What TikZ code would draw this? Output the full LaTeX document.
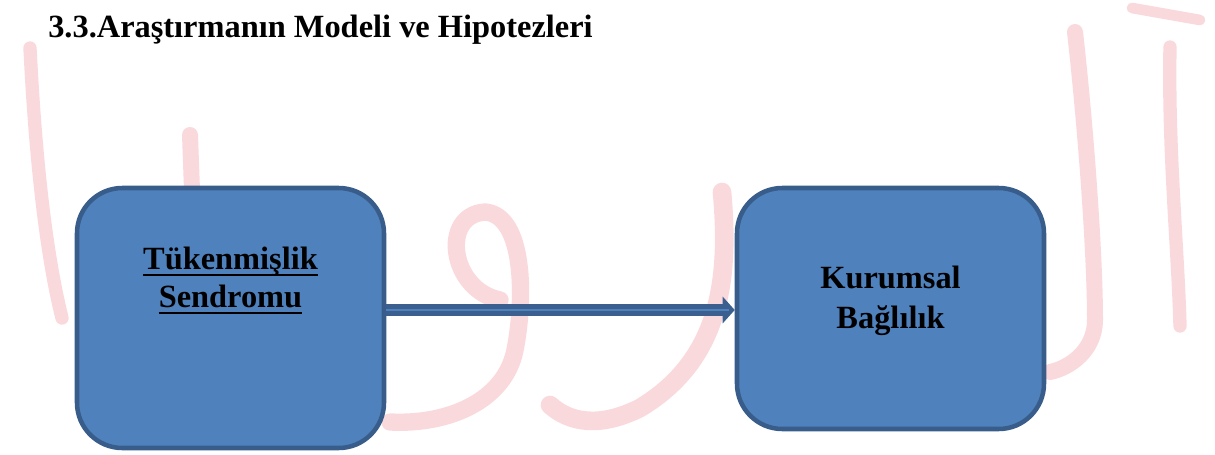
\documentclass[tikz,border=0pt]{standalone}
\usepackage{fontspec}
\setmainfont{Liberation Serif}
\usetikzlibrary{arrows.meta}
\definecolor{boxfill}{RGB}{79,129,189}
\definecolor{boxborder}{RGB}{56,93,138}
\definecolor{arrowdark}{RGB}{59,95,142}
\definecolor{wm}{RGB}{246,186,192}
\tikzset{
  modelbox/.style={draw=boxborder, fill=boxfill, line width=3.4pt, rounded corners=34pt, inner sep=0pt},
  boxtext/.style={inner sep=0pt, anchor=base, font=\fontsize{24.3}{28}\selectfont\bfseries, text=black},
  ulline/.style={line width=1.9pt, black},
  wmark/.style={wm, opacity=0.55, line cap=round, line join=round},
  conn/.style={arrowdark, line width=9pt, -{Triangle[length=9pt,width=19.5pt]}},
  connin/.style={boxfill, line width=1.3pt}
}
\begin{document}
\begin{tikzpicture}[x=0.75pt,y=-0.75pt]
\useasboundingbox (0,0) rectangle (1215,454);
% watermark
\draw[wmark, line width=10pt] (30,48) .. controls (35,150) and (45,250) .. (62,318);
\draw[wmark, line width=12pt] (190,135) -- (192,190);
\draw[wmark, line width=13pt] (500,300) .. controls (450,290) and (440,215) .. (485,212) .. controls (525,215) and (525,300) .. (515,350) .. controls (505,400) and (450,425) .. (390,422);
\draw[wmark, line width=14pt] (722,192) .. controls (730,280) and (720,360) .. (640,408) .. controls (600,428) and (570,423) .. (550,405);
\draw[wmark, line width=12pt] (1075,32) .. controls (1085,120) and (1095,250) .. (1095,320) .. controls (1095,350) and (1070,368) .. (1050,372);
\draw[wmark, line width=10pt] (1170,47) .. controls (1168,150) and (1178,250) .. (1180,326);
\draw[wmark, line width=8pt] (1132,8) -- (1200,20);
% title
\node[inner sep=0pt, anchor=base west, font=\fontsize{24.3}{28}\selectfont\bfseries] (title) at (48,37) {3.3.Araştırmanın Modeli ve Hipotezleri};
% boxes
\node[modelbox, minimum width=230.25pt, minimum height=195pt] (tb) at (230.5,318) {};
\node[modelbox, minimum width=230.25pt, minimum height=180.75pt] (kb) at (890.5,308.5) {};
% texts
\node[boxtext] (t1) at (230.5,269) {Tükenmişlik};
\node[boxtext] (t2) at (230.5,307) {Sendromu};
\draw[ulline] ([yshift=-4.6pt]t1.base west) -- ([yshift=-4.6pt]t1.base east);
\draw[ulline] ([yshift=-4.6pt]t2.base west) -- ([yshift=-4.6pt]t2.base east);
\node[boxtext] (k1) at (890.5,288) {Kurumsal};
\node[boxtext] (k2) at (890.5,328) {Bağlılık};
% connector
\coordinate (ay) at (0,310);
\draw[conn] (tb.east |- ay) -- (kb.west |- ay);
\draw[connin] (tb.east |- ay) -- ([xshift=-4pt]kb.west |- ay);
\end{tikzpicture}
\end{document}
